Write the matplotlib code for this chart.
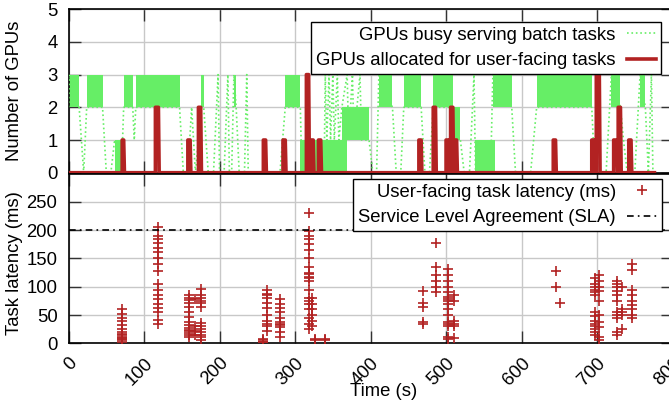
import matplotlib
matplotlib.use("Agg")
import matplotlib.pyplot as plt
import numpy as np

plt.rcParams['font.family'] = ['Liberation Sans', 'DejaVu Sans']
plt.rcParams['font.size'] = 13.3

GREEN = '#66ee66'
RED = '#b22222'

# batch GPUs: dense oscillation bands (start, end, low, high)
band_t0 = [1, 24, 61, 73, 89, 176, 219, 287, 306, 362, 411, 444, 483, 509, 538, 562, 620, 719, 757]
band_t1 = [14, 45, 70, 85, 147, 179, 222, 307, 369, 398, 429, 467, 509, 519, 565, 587, 693, 731, 764]
band_lo = [2, 2, 0, 2, 2, 2, 2, 2, 0, 1, 2, 2, 2, 1, 0, 2, 2, 2, 2]
band_hi = [3, 3, 1, 3, 3, 3, 3, 3, 1, 2, 3, 3, 3, 2, 1, 3, 3, 3, 3]

# batch GPUs: sparse transitions between the bands
green_t = [0, 1, 14, 20, 24, 45, 50, 56, 61, 70, 73, 85, 87, 89, 147, 152, 158, 163,
           168, 176, 179, 185, 192, 198, 200, 206, 211, 213, 216, 219, 222, 226, 233,
           236, 238, 280, 287, 307, 309, 339, 340, 342, 345, 347, 350, 352, 356, 358,
           362, 369, 371, 376, 378, 386, 388, 398, 403, 408, 411, 429, 434, 440, 444,
           467, 472, 478, 483, 509, 511, 519, 524, 531, 537, 539, 560, 562, 587, 592,
           612, 620, 693, 697, 712, 719, 731, 735, 740, 750, 757, 764, 768, 772, 774, 776]
green_v = [2, 3, 2, 0, 2, 2, 0, 0, 1, 0, 2, 2, 1, 2, 2, 0, 0, 2,
           0, 2, 2, 0, 0, 3, 0, 0, 3, 0, 0, 3, 2, 0, 0,
           3, 0, 0, 2, 2, 0, 1, 3, 1, 3, 1, 3, 1, 3, 1,
           2, 3, 1, 3, 1, 3, 1, 1, 0, 0, 3, 2, 0, 0, 2,
           2, 0, 0, 2, 2, 1, 1, 0, 0, 3, 0, 1, 3, 2, 0,
           0, 2, 2, 0, 0, 3, 2, 1, 0, 0, 3, 2, 0, 3, 0, 0]

# user-facing GPUs: allocation spikes (start, end, GPUs)
spike_t0 = [71, 115, 158, 172, 258, 284, 315, 321, 331, 464, 483, 500, 506, 511, 642, 693, 699, 722, 728, 742]
spike_t1 = [73, 119, 161, 175, 261, 287, 318, 324, 334, 467, 486, 503, 509, 514, 645, 696, 703, 726, 731, 745]
spike_h = [1, 2, 1, 2, 1, 1, 3, 1, 1, 1, 2, 1, 2, 1, 1, 1, 3, 1, 2, 1]
t_end = 776

# user-facing task latency (ms), grouped by request time (s)
lat_t = [71, 118, 160, 168, 176, 257, 263, 280, 319, 323, 327, 340,
         470, 487, 503, 510, 646, 651, 697, 703, 727, 733, 746]
lat_ms = [
    [60, 52, 45, 40, 33, 25, 20, 17, 15, 12, 10, 8, 5, 3],
    [205, 190, 185, 178, 168, 162, 150, 140, 128, 105, 95, 85, 78, 70, 62, 55, 42, 35],
    [85, 80, 76, 72, 65, 56, 47, 38, 32, 27, 24, 21, 18, 15, 12],
    [78, 30, 22, 15],
    [96, 85, 80, 75, 72, 65, 36, 30, 25, 20, 15, 12, 5],
    [8, 5, 3, 2],
    [95, 88, 85, 80, 72, 62, 50, 40, 35, 30, 22],
    [78, 70, 62, 55, 45, 38, 35, 32, 28, 20, 12],
    [230, 198, 190, 185, 175, 165, 150, 135, 125, 122, 118, 115, 110, 95, 80, 75, 70, 60, 45, 35, 25],
    [80, 70, 60, 50, 40, 30],
    [8, 5],
    [8, 5],
    [92, 72, 65, 38, 35],
    [178, 135, 120, 110, 100, 90],
    [131, 120, 110, 100, 90, 82, 78, 75, 70, 60, 50, 38, 35, 30, 12, 8],
    [85, 75, 40, 35, 30, 10],
    [128, 100],
    [72],
    [115, 105, 100, 95, 90, 85, 55, 48, 40, 35, 30, 25, 20, 15],
    [120, 110, 100, 92, 75, 50, 38, 28, 12, 5],
    [110, 105, 100, 92, 85, 75, 55, 50, 45, 20, 15],
    [100, 60, 55, 50, 25],
    [140, 130, 95, 85, 75, 68, 60, 50, 45],
]
sla = 200

# polyline of the user-facing allocation
red_t, red_v = [0], [0]
for a, b, h in zip(spike_t0, spike_t1, spike_h):
    red_t += [a, a, b, b + 1]
    red_v += [0, h, h, 0]
red_t.append(t_end)
red_v.append(0)

pts_t, pts_y = [], []
for t, vals in zip(lat_t, lat_ms):
    pts_t += [t] * len(vals)
    pts_y += vals

fig = plt.figure(figsize=(6.69, 4.04), dpi=100)
ax1 = fig.add_axes([0.1025, 0.5725, 0.9028, 0.4047])
ax2 = fig.add_axes([0.1025, 0.1502, 0.9028, 0.4203])

for ax in (ax1, ax2):
    ax.set_xlim(0, 800)
    ax.set_xticks(np.arange(0, 801, 100))
    ax.grid(True, color='#c8c8c8', lw=1)
    ax.set_axisbelow(True)
    ax.tick_params(direction='in', length=8.5, width=1, top=True, right=True,
                   color='#333333', pad=8)
    for s in ax.spines.values():
        s.set_linewidth(1.2)

leg_kw = dict(loc='upper right', borderaxespad=0, markerfirst=False, fancybox=False,
              framealpha=1, edgecolor='black', handlelength=1.6, handletextpad=0.6,
              labelspacing=0.44, borderpad=0.27)

# top panel
for a, b, lo, hi in zip(band_t0, band_t1, band_lo, band_hi):
    ax1.fill_between([a, b], [lo, lo], [hi, hi], color=GREEN, lw=0, zorder=2)
ax1.plot(green_t, green_v, ':', color=GREEN, lw=1.2, zorder=3,
         label='GPUs busy serving batch tasks')
ax1.plot(red_t, red_v, '-', color=RED, lw=2.6, zorder=4,
         label='GPUs allocated for user-facing tasks')
ax1.set_ylim(0, 5)
ax1.set_yticks(range(6))
ax1.tick_params(labelbottom=False)
ax1.set_ylabel('Number of GPUs')
ax1.yaxis.set_label_coords(-0.0755, 0.5)
leg1 = ax1.legend(bbox_to_anchor=(0.981, 0.922), **leg_kw)
leg1.get_frame().set_linewidth(1.0)

# bottom panel
ax2.plot(pts_t, pts_y, '+', color=RED, ms=7.5, mew=1.2, zorder=3,
         label='User-facing task latency (ms)')
ax2.axhline(sla, color='black', lw=1.2, ls=(0, (4, 2.5, 1, 2.5)), zorder=3,
            label='Service Level Agreement (SLA)')
ax2.set_ylim(0, 300)
ax2.set_yticks(np.arange(0, 251, 50))
ax2.set_ylabel('Task latency (ms)')
ax2.yaxis.set_label_coords(-0.0755, 0.473)
for lab in ax2.get_xticklabels():
    lab.set_rotation(45)
    lab.set_ha('right')
    lab.set_rotation_mode('anchor')
leg2 = ax2.legend(bbox_to_anchor=(0.982, 0.968), **leg_kw)
leg2.get_frame().set_linewidth(1.0)

fig.text(383.6 / 669, 1 - 391 / 404, 'Time (s)', ha='center', va='center')

fig.savefig('out.png', dpi=100)
